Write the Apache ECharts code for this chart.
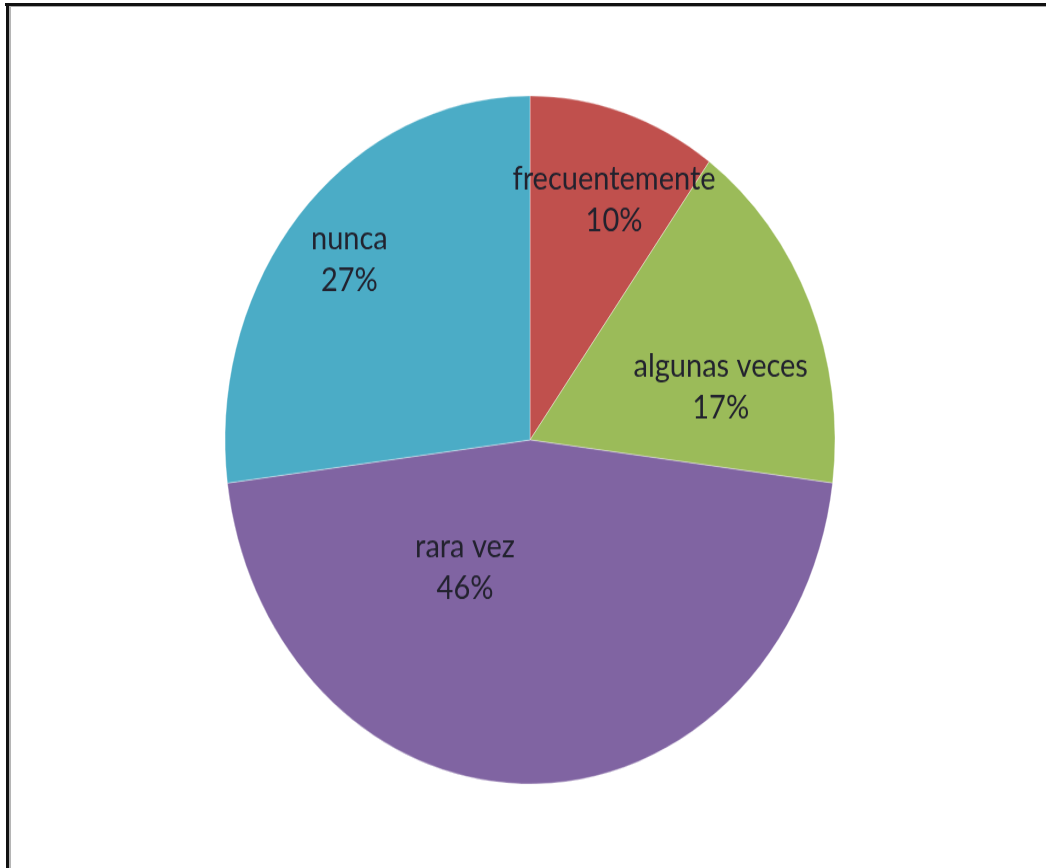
<!DOCTYPE html>
<html>
<head>
<meta charset="utf-8">
<script src="https://cdn.jsdelivr.net/npm/echarts@6/dist/echarts.min.js"></script>
<style>
  html, body { margin: 0; padding: 0; background: #fff; }
  #frame {
    position: absolute; left: 0; top: 0; width: 1046px; height: 868px;
    overflow: hidden; background: #fff;
  }
  #edgeTop { position: absolute; left: 5px; top: 3px; width: 1041px; height: 3px; background: #111; }
  #edgeTop2 { position: absolute; left: 9px; top: 6px; width: 1037px; height: 1px; background: #aaa; }
  #edgeLeft { position: absolute; left: 6px; top: 3px; width: 3px; height: 865px; background: #111; }
  #edgeLeft2 { position: absolute; left: 9px; top: 6px; width: 2px; height: 862px; background: #b5b5b5; }
  #chart {
    position: absolute; left: 0; top: 0; width: 1046px; height: 770px;
    transform-origin: 0 0; transform: scaleY(1.128);
  }
</style>
</head>
<body>
<div id="frame">
  <div id="chart"></div>
  <div id="edgeTop"></div>
  <div id="edgeTop2"></div>
  <div id="edgeLeft"></div>
  <div id="edgeLeft2"></div>
</div>
<script>
// Categories and shares (%) of the answers
const categories = ['frecuentemente', 'algunas veces', 'rara vez', 'nunca'];
const shares = [10, 17, 46, 27];
const sliceColors = ['#C0504D', '#9BBB59', '#8064A2', '#4BACC6'];

// Label nudges from the default "inside" anchor, one per slice
const labelShift = [[36, -65], [48, 15], [-65, -42], [-64, -57]];

const chart = echarts.init(document.getElementById('chart'), null, { renderer: 'canvas' });

chart.setOption({
  animation: false,
  backgroundColor: 'transparent',
  series: [{
    type: 'pie',
    center: [530, 390],
    radius: [0, 305],
    startAngle: 90,
    clockwise: true,
    avoidLabelOverlap: false,
    silent: true,
    itemStyle: { borderColor: 'rgba(255,255,255,0.6)', borderWidth: 0.6 },
    label: {
      show: true,
      position: 'inside',
      formatter: '{b}\n{d}%',
      fontFamily: 'Lato',
      fontSize: 29,
      lineHeight: 37,
      color: '#22222e',
      align: 'center'
    },
    labelLine: { show: false },
    labelLayout: function (p) {
      const s = labelShift[p.dataIndex];
      return { dx: s[0], dy: s[1] };
    },
    emphasis: { disabled: true },
    data: categories.map((name, i) => ({
      name: name,
      value: shares[i],
      itemStyle: { color: sliceColors[i] }
    }))
  }]
});
</script>
</body>
</html>
